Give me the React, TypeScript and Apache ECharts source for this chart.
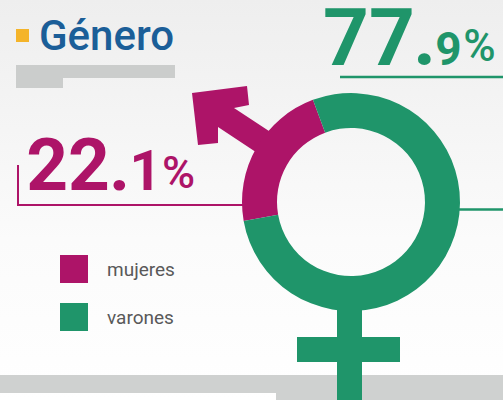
import React, { useEffect, useRef } from "react";
import * as echarts from "echarts";

const categories = ["mujeres", "varones"];
const values = [22.1, 77.9];
const title = "Género";

const MAGENTA = "#ad1468";
const GREEN = "#1f956a";

function splitValue(v: number) {
  const [i, d] = v.toFixed(1).split(".");
  return { int: i, dec: d };
}

const font = "Roboto";

export default function App() {
  const ref = useRef<HTMLDivElement>(null);
  useEffect(() => {
    if (!ref.current) return;
    const chart = echarts.init(ref.current, null, { renderer: "svg" });
    const f = splitValue(values[0]);
    const m = splitValue(values[1]);
    const mid = (baseline: number, fs: number) => baseline - 0.34 * fs;
    const txt = (text: string, cx: number, baseline: number, fs: number, weight: any, color: string) => ({
      type: "text",
      z: 1,
      x: cx,
      y: mid(baseline, fs),
      style: {
        text,
        fontFamily: font,
        fontSize: fs,
        fontWeight: weight,
        fill: color,
        align: "center",
        verticalAlign: "middle",
        lineHeight: Math.round(fs * 0.8),
      },
    });
    chart.setOption({
      animation: false,
      legend: {
        orient: "vertical",
        left: 60,
        top: 255,
        padding: 0,
        itemWidth: 28,
        itemHeight: 28,
        itemGap: 20,
        icon: "rect",
        selectedMode: false,
        data: categories,
        textStyle: { fontFamily: font, fontSize: 19, color: "#595959", padding: [0, 0, 0, 14] },
      },
      series: [
        {
          type: "pie",
          silent: true,
          center: [351, 202],
          radius: [74, 109],
          startAngle: 190,
          clockwise: true,
          z: 3,
          label: { show: false },
          labelLine: { show: false },
          itemStyle: { borderWidth: 0 },
          data: categories.map((c, i) => ({
            name: c,
            value: values[i],
            itemStyle: { color: i === 0 ? MAGENTA : GREEN },
          })),
        },
      ],
      graphic: [
        {
          type: "rect",
          z: -10,
          silent: true,
          shape: { x: 0, y: 0, width: 503, height: 400 },
          style: {
            fill: new echarts.graphic.LinearGradient(0, 0, 0, 1, [
              { offset: 0, color: "#eeeeee" },
              { offset: 0.6, color: "#fbfbfb" },
              { offset: 1, color: "#ffffff" },
            ]),
          },
        },
        { type: "rect", z: 1, shape: { x: 16, y: 29, width: 13, height: 13 }, style: { fill: "#f4b42a" } },
        {
          type: "text", z: 1, x: 39, y: mid(50, 42),
          style: { text: title, fontFamily: font, fontSize: 42, fontWeight: 500, fill: "#1b5e98", align: "left", verticalAlign: "middle", lineHeight: 34 },
        },
        { type: "rect", z: 1, shape: { x: 16, y: 65, width: 159, height: 13 }, style: { fill: "#cbcdcc" } },
        { type: "rect", z: 1, shape: { x: 16, y: 78, width: 47, height: 10 }, style: { fill: "#cbcdcc" } },
        // 77.9%
        txt(m.int, 369, 65, 80, "bold", GREEN),
        txt(".", 424.5, 65, 80, "bold", GREEN),
        txt(m.dec, 448.5, 65, 46, "bold", GREEN),
        txt("%", 479.5, 61, 44, 500, GREEN),
        { type: "line", z: 1, shape: { x1: 340, y1: 77, x2: 503, y2: 77 }, style: { stroke: GREEN, lineWidth: 2.5 } },
        { type: "line", z: 1, shape: { x1: 455, y1: 209.5, x2: 503, y2: 209.5 }, style: { stroke: GREEN, lineWidth: 2.5 } },
        // 22.1%
        txt(f.int, 68, 190, 73, "bold", MAGENTA),
        txt(".", 119.5, 190, 73, "bold", MAGENTA),
        txt(f.dec, 145.5, 190, 56, "bold", MAGENTA),
        txt("%", 178.5, 188, 45, 500, MAGENTA),
        {
          type: "polyline", z: 1,
          shape: { points: [[18, 165], [18, 205], [245, 205]] },
          style: { stroke: MAGENTA, lineWidth: 2, fill: null },
        },
        // male arrow
        {
          type: "polygon", z: 1,
          shape: {
            points: [[192, 93], [247, 86], [249, 105], [234, 108], [279.6, 138.1], [265.6, 158.5], [218, 127], [218, 143], [198, 145]],
          },
          style: { fill: MAGENTA },
        },
        // bottom band
        { type: "rect", z: 1, shape: { x: 0, y: 375, width: 503, height: 18 }, style: { fill: "#cfd1d0" } },
        { type: "rect", z: 1, shape: { x: 276, y: 393, width: 227, height: 7 }, style: { fill: "#cfd1d0" } },
        // female cross
        { type: "rect", z: 5, shape: { x: 337, y: 300, width: 25, height: 100 }, style: { fill: GREEN } },
        { type: "rect", z: 5, shape: { x: 297, y: 337, width: 103, height: 25 }, style: { fill: GREEN } },
      ],
    });
    return () => chart.dispose();
  }, []);
  return <div ref={ref} style={{ position: "absolute", left: 0, top: 0, width: 503, height: 400 }} />;
}
